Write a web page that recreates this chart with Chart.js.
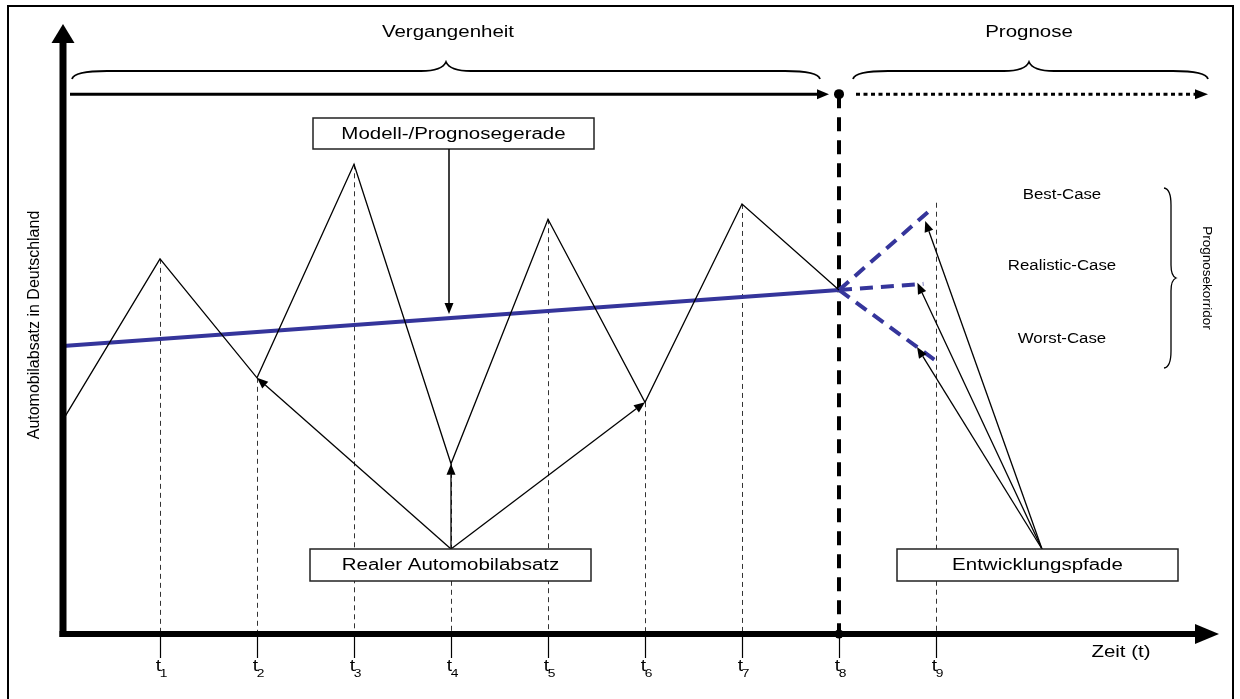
<!DOCTYPE html>
<html>
<head>
<meta charset="utf-8">
<script src="https://cdn.jsdelivr.net/npm/chart.js@4.4.1/dist/chart.umd.min.js"></script>
<style>
  body { margin: 0; background: #fff; }
  #wrap { width: 1240px; height: 699px; position: relative; }
</style>
</head>
<body>
<div id="wrap"><canvas id="prognoseChart"></canvas></div>
<script>
// time points t1..t9 (x in t units), y in arbitrary sales units 0..100
const tLabels = ['1', '2', '3', '4', '5', '6', '7', '8', '9'];
const tValues = [1, 2, 3, 4, 5, 6, 7, 8, 9];

const salesX = [0, 1, 2, 3, 4, 5, 6, 7, 8];
const salesY = [35.1, 61.5, 42.0, 77.0, 27.9, 68.0, 38.0, 70.5, 56.4];

const trendX = [0, 8];
const trendY = [47.2, 56.4];

const caseNames = ['Best-Case', 'Realistic-Case', 'Worst-Case'];
const caseEndX = [8.92, 8.87, 8.99];
const caseEndY = [69.2, 57.4, 44.9];

const guideTopY = [61.5, 42.0, 77.0, 27.9, 68.0, 38.0, 70.5, 88.5, 70.7];

const BLUE = '#35359b';
const FONT = '"Liberation Sans", Arial, sans-serif';

function pts(xs, ys) {
  return xs.map((x, i) => ({ x: x, y: ys[i] }));
}

const datasets = [
  {
    label: 'Realer Automobilabsatz',
    data: pts(salesX, salesY),
    borderColor: '#000',
    borderWidth: 1.3,
    pointRadius: 0,
    tension: 0
  },
  {
    label: 'Modell-/Prognosegerade',
    data: pts(trendX, trendY),
    borderColor: BLUE,
    borderWidth: 4,
    pointRadius: 0
  }
];
caseNames.forEach((name, i) => {
  datasets.push({
    label: name,
    data: [{ x: trendX[1], y: trendY[1] }, { x: caseEndX[i], y: caseEndY[i] }],
    borderColor: BLUE,
    borderWidth: 4,
    borderDash: [13, 8],
    pointRadius: 0
  });
});

function stretchText(ctx, str, x, y, size, align, sx) {
  ctx.save();
  ctx.font = size + 'px ' + FONT;
  ctx.textAlign = align || 'center';
  ctx.textBaseline = 'middle';
  ctx.fillStyle = '#000';
  ctx.translate(x, y);
  ctx.scale(sx || 1.28, 1);
  ctx.fillText(str, 0, 0);
  ctx.restore();
}

function arrow(ctx, x1, y1, x2, y2, lw, len, half) {
  const a = Math.atan2(y2 - y1, x2 - x1);
  const bx = x2 - Math.cos(a) * len, by = y2 - Math.sin(a) * len;
  ctx.save();
  ctx.lineWidth = lw;
  ctx.strokeStyle = '#000';
  ctx.fillStyle = '#000';
  ctx.beginPath();
  ctx.moveTo(x1, y1);
  ctx.lineTo(bx, by);
  ctx.stroke();
  ctx.beginPath();
  ctx.moveTo(x2, y2);
  ctx.lineTo(bx + Math.sin(a) * half, by - Math.cos(a) * half);
  ctx.lineTo(bx - Math.sin(a) * half, by + Math.cos(a) * half);
  ctx.closePath();
  ctx.fill();
  ctx.restore();
}

function hBrace(ctx, x1, x2, xTip, yEnd, yFlat, yTip) {
  ctx.beginPath();
  ctx.moveTo(x1, yEnd);
  ctx.quadraticCurveTo(x1 + 2, yFlat, x1 + 35, yFlat);
  ctx.lineTo(xTip - 25, yFlat);
  ctx.quadraticCurveTo(xTip - 4, yFlat, xTip, yTip);
  ctx.quadraticCurveTo(xTip + 4, yFlat, xTip + 25, yFlat);
  ctx.lineTo(x2 - 35, yFlat);
  ctx.quadraticCurveTo(x2 - 2, yFlat, x2, yEnd);
  ctx.stroke();
}

function box(ctx, cx, cy, w, h, str) {
  ctx.save();
  ctx.fillStyle = '#fff';
  ctx.strokeStyle = '#222';
  ctx.lineWidth = 1.5;
  ctx.fillRect(cx - w / 2, cy - h / 2, w, h);
  ctx.strokeRect(cx - w / 2, cy - h / 2, w, h);
  ctx.restore();
  stretchText(ctx, str, cx, cy + 1, 16, 'center');
}

const backdrop = {
  id: 'backdrop',
  beforeDatasetsDraw(chart) {
    const ctx = chart.ctx;
    const xs = chart.scales.x, ys = chart.scales.y;
    const y0 = ys.getPixelForValue(0);
    ctx.save();
    // frame (bottom edge is outside the picture)
    ctx.strokeStyle = '#000';
    ctx.lineWidth = 2;
    ctx.strokeRect(8, 6, 1225, 700);
    // thin dashed guides
    ctx.lineWidth = 1;
    ctx.strokeStyle = '#333';
    ctx.setLineDash([5, 4]);
    tValues.forEach((t, i) => {
      if (i === 7) return;
      const x = Math.round(xs.getPixelForValue(t)) + 0.5;
      ctx.beginPath();
      ctx.moveTo(x, ys.getPixelForValue(guideTopY[i]));
      ctx.lineTo(x, y0);
      ctx.stroke();
    });
    // thick dashed t8 line
    ctx.strokeStyle = '#000';
    ctx.lineWidth = 4;
    ctx.setLineDash([14, 9]);
    const x8 = xs.getPixelForValue(tValues[7]);
    ctx.beginPath();
    ctx.moveTo(x8, ys.getPixelForValue(guideTopY[7]));
    ctx.lineTo(x8, y0);
    ctx.stroke();
    ctx.setLineDash([]);
    ctx.restore();
  },
  afterDatasetsDraw(chart) {
    const ctx = chart.ctx;
    const xs = chart.scales.x, ys = chart.scales.y;
    const X = v => xs.getPixelForValue(v), Y = v => ys.getPixelForValue(v);
    const x0 = X(0), y0 = Y(0);
    ctx.save();
    ctx.fillStyle = '#000';
    ctx.strokeStyle = '#000';

    // y axis with arrow
    ctx.lineWidth = 7;
    ctx.beginPath();
    ctx.moveTo(x0, y0 + 3);
    ctx.lineTo(x0, Y(97));
    ctx.stroke();
    ctx.beginPath();
    ctx.moveTo(x0, Y(100));
    ctx.lineTo(x0 - 11.5, Y(96.9));
    ctx.lineTo(x0 + 11.5, Y(96.9));
    ctx.closePath();
    ctx.fill();
    // x axis with arrow
    ctx.lineWidth = 6;
    ctx.beginPath();
    ctx.moveTo(x0 - 3.5, y0);
    ctx.lineTo(1198, y0);
    ctx.stroke();
    ctx.beginPath();
    ctx.moveTo(1219, y0);
    ctx.lineTo(1195, y0 - 10);
    ctx.lineTo(1195, y0 + 10);
    ctx.closePath();
    ctx.fill();

    // ticks and labels
    ctx.lineWidth = 1.2;
    tValues.forEach((t, i) => {
      const x = Math.round(X(t)) + 0.5;
      ctx.beginPath();
      ctx.moveTo(x, y0 + 3);
      ctx.lineTo(x, y0 + 24);
      ctx.stroke();
      stretchText(ctx, 't', x - 2, y0 + 33, 16, 'center', 1.2);
      stretchText(ctx, tLabels[i], x + 3, y0 + 40, 11.5, 'center', 1.2);
    });
    stretchText(ctx, 'Zeit (t)', 1121, y0 + 19, 16, 'center');

    // dots on t8
    const x8 = X(tValues[7]);
    ctx.beginPath();
    ctx.arc(x8, Y(guideTopY[7]), 5, 0, Math.PI * 2);
    ctx.fill();
    ctx.beginPath();
    ctx.arc(x8, y0, 4.5, 0, Math.PI * 2);
    ctx.fill();

    // time arrows on top
    const yTop = Y(guideTopY[7]);
    arrow(ctx, 70, yTop, x8 - 10, yTop, 3, 12, 5);
    ctx.lineWidth = 3;
    ctx.setLineDash([4, 3.5]);
    ctx.beginPath();
    ctx.moveTo(856, yTop);
    ctx.lineTo(1196, yTop);
    ctx.stroke();
    ctx.setLineDash([]);
    ctx.beginPath();
    ctx.moveTo(1208, yTop);
    ctx.lineTo(1195, yTop - 5);
    ctx.lineTo(1195, yTop + 5);
    ctx.closePath();
    ctx.fill();

    // braces and period labels
    ctx.lineWidth = 1.8;
    hBrace(ctx, 72, 820, 446, 79, 71, 62);
    hBrace(ctx, 853, 1208, 1029, 79, 71, 62);
    stretchText(ctx, 'Vergangenheit', 448, 33, 16, 'center');
    stretchText(ctx, 'Prognose', 1029, 33, 16, 'center');

    // y axis title
    ctx.save();
    ctx.translate(35, 325);
    ctx.rotate(-Math.PI / 2);
    ctx.font = '16px ' + FONT;
    ctx.textAlign = 'center';
    ctx.textBaseline = 'middle';
    ctx.fillText('Automobilabsatz in Deutschland', 0, 0);
    ctx.restore();

    // Modell-/Prognosegerade box with arrow to trend line
    box(ctx, 453.5, 133.5, 281, 31, 'Modell-/Prognosegerade');
    const xm = X(4);
    const trendAt4 = trendY[0] + (trendY[1] - trendY[0]) * 4 / 8;
    arrow(ctx, xm - 2, 149, xm - 2, Y(trendAt4) - 4, 1.5, 11, 4.5);

    // Realer Automobilabsatz box with arrows to sales points
    const rb = { x: X(4), y: 549 };
    [1, 3, 5].forEach(k => {
      const k2 = k + 1;
      arrow(ctx, rb.x, rb.y, X(salesX[k2]), Y(salesY[k2]), 1.3, 11, 4.5);
    });
    box(ctx, 450.5, 565, 281, 32, 'Realer Automobilabsatz');

    // Entwicklungspfade box with arrows to scenario ends
    const eb = { x: 1042, y: 549 };
    const tipOff = [[-3, 9], [-6, -1], [-18, -13]];
    caseEndX.forEach((cx, i) => {
      arrow(ctx, eb.x, eb.y, X(cx) + tipOff[i][0], Y(caseEndY[i]) + tipOff[i][1], 1.3, 11, 4.5);
    });
    box(ctx, 1037.5, 565, 281, 32, 'Entwicklungspfade');

    // scenario labels and corridor brace
    stretchText(ctx, caseNames[0], 1062, 195, 14, 'center', 1.2);
    stretchText(ctx, caseNames[1], 1062, 266, 14, 'center', 1.2);
    stretchText(ctx, caseNames[2], 1062, 339, 14, 'center', 1.2);
    ctx.lineWidth = 1.3;
    ctx.beginPath();
    ctx.moveTo(1164, 188);
    ctx.quadraticCurveTo(1171, 189, 1171, 205);
    ctx.lineTo(1171, 265);
    ctx.quadraticCurveTo(1171, 276, 1176, 278);
    ctx.quadraticCurveTo(1171, 280, 1171, 291);
    ctx.lineTo(1171, 351);
    ctx.quadraticCurveTo(1171, 367, 1164, 368);
    ctx.stroke();
    ctx.save();
    ctx.translate(1207, 278);
    ctx.rotate(Math.PI / 2);
    ctx.font = '13.5px ' + FONT;
    ctx.textAlign = 'center';
    ctx.textBaseline = 'middle';
    ctx.fillText('Prognosekorridor', 0, 0);
    ctx.restore();

    ctx.restore();
  }
};

new Chart(document.getElementById('prognoseChart'), {
  type: 'line',
  data: { datasets: datasets },
  options: {
    responsive: true,
    maintainAspectRatio: false,
    animation: false,
    layout: { padding: { left: 63, right: 13, top: 24, bottom: 65 } },
    plugins: { legend: { display: false }, tooltip: { enabled: false } },
    elements: { line: { borderCapStyle: 'butt' } },
    datasets: { line: { clip: false } },
    scales: {
      x: { type: 'linear', min: 0, max: 12, display: false },
      y: { type: 'linear', min: 0, max: 100, display: false }
    }
  },
  plugins: [backdrop]
});
</script>
</body>
</html>
